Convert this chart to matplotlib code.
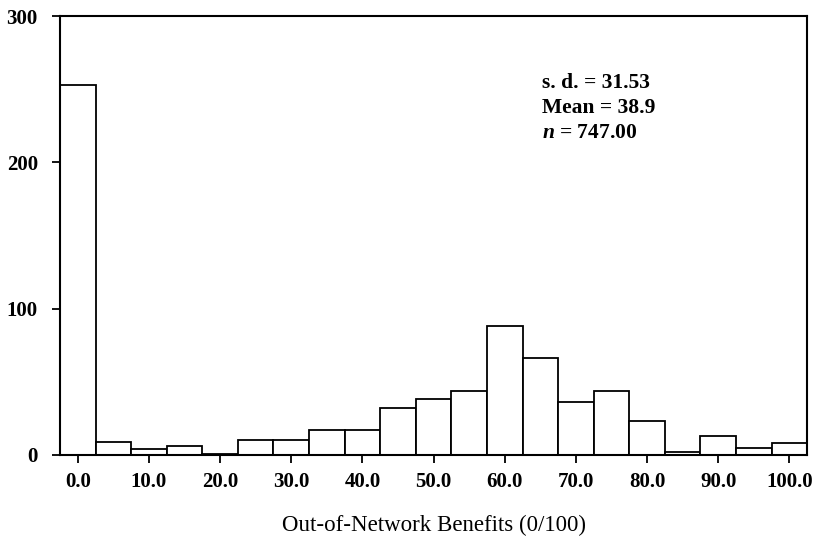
import matplotlib.pyplot as plt

# bin centres (width 5) and counts
bin_centers = [0, 5, 10, 15, 20, 25, 30, 35, 40, 45, 50,
               55, 60, 65, 70, 75, 80, 85, 90, 95, 100]
counts = [253, 9, 4, 6, 1, 10, 10, 17, 17, 32, 38,
          44, 88, 66, 36, 44, 23, 2, 13, 5, 8]
x_ticks = [0, 10, 20, 30, 40, 50, 60, 70, 80, 90, 100]
y_ticks = [0, 100, 200, 300]
stats_lines = ["s. d. = 31.53", "Mean = 38.9", r"$\mathit{n}$ = 747.00"]

plt.rcParams['font.family'] = ['Liberation Serif', 'DejaVu Serif']
plt.rcParams['mathtext.fontset'] = 'custom'
plt.rcParams['mathtext.it'] = 'Liberation Serif:italic:bold'

fig = plt.figure(figsize=(8.21, 5.41), dpi=100)
ax = fig.add_axes([0.0731, 0.159, 0.910, 0.811])

ax.bar(bin_centers, counts, width=5, color='white', edgecolor='black', linewidth=1.3)

ax.set_xlim(-2.5, 102.5)
ax.set_ylim(0, 300)
ax.set_xticks(x_ticks)
ax.set_xticklabels([f"{v:.1f}" for v in x_ticks], fontsize=15, fontweight='bold')
ax.set_yticks(y_ticks)
ax.set_yticklabels([str(v) for v in y_ticks], fontsize=15, fontweight='bold')
ax.tick_params(axis='both', direction='out', length=6, width=1.3)
ax.tick_params(axis='x', pad=6)
ax.tick_params(axis='y', pad=10)

for s in ax.spines.values():
    s.set_linewidth(1.5)

ax.set_xlabel("Out-of-Network Benefits (0/100)", fontsize=16.5, labelpad=17)

for i, line in enumerate(stats_lines):
    ax.text(0.645, 0.848 - i * 0.057, line, transform=ax.transAxes,
            fontsize=15.5, fontweight='bold', ha='left', va='center')

fig.savefig("out.png", dpi=100)
